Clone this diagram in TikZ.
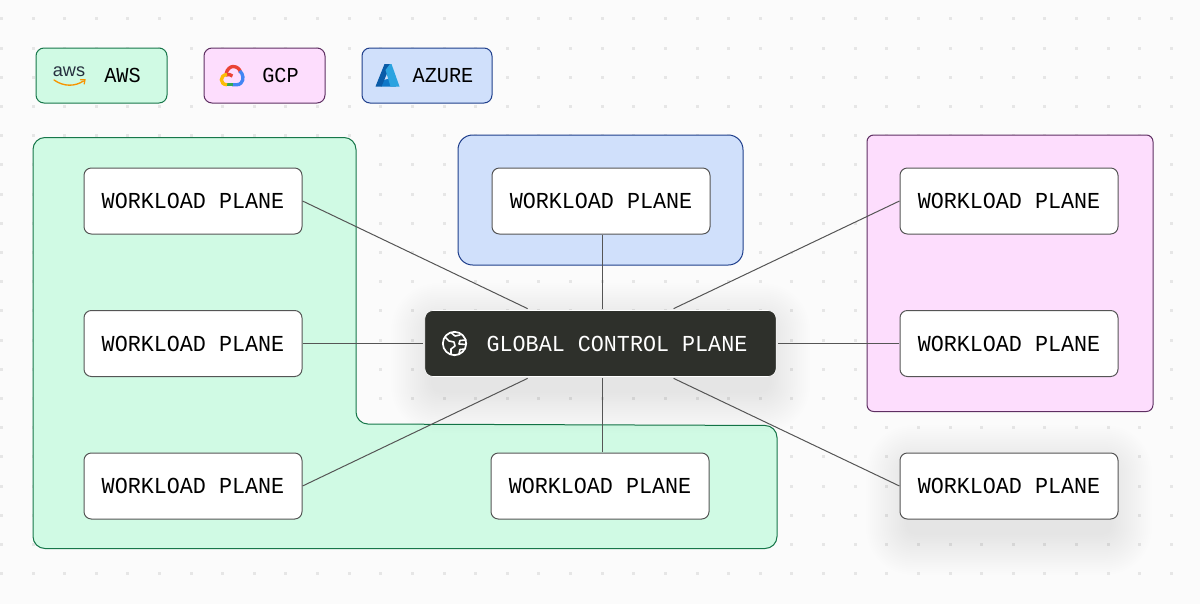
\documentclass[tikz,border=0pt]{standalone}
\usepackage{fontspec}
\setmainfont{Liberation Sans}
\newfontfamily\monof[FakeStretch=0.95]{Liberation Mono}
\definecolor{bgc}{HTML}{FBFBFB}
\definecolor{dotc}{HTML}{E6E6E6}
\definecolor{greenf}{HTML}{D0FAE4}
\definecolor{greens}{HTML}{17774A}
\definecolor{pinkf}{HTML}{FDDDFD}
\definecolor{pinks}{HTML}{5E2F62}
\definecolor{bluef}{HTML}{D0E0FB}
\definecolor{blues}{HTML}{1F3F8C}
\definecolor{darkc}{HTML}{2E302B}
\definecolor{linec}{HTML}{555555}
\definecolor{awsink}{HTML}{252F3E}
\definecolor{awsor}{HTML}{F79400}
\definecolor{gred}{HTML}{EA4335}
\definecolor{gblue}{HTML}{4285F4}
\definecolor{ggreen}{HTML}{34A853}
\definecolor{gyellow}{HTML}{FBBC05}
\definecolor{azd}{HTML}{0A5CA8}
\definecolor{azm}{HTML}{0F78C8}
\definecolor{azl}{HTML}{2BA3E0}
\newcommand{\softshadow}[4]{%
  \foreach \i in {1,...,22}{
    \pgfmathsetmacro\rr{6+\i*1.3}
    \fill[black,opacity=0.0022,rounded corners=\rr pt]
      ({#1-\i*1.9+8},{#2-\i*1.9+14}) rectangle ({#3+\i*1.9-8},{#4+\i*1.9+14});
  }}
\tikzset{
  wpbox/.style={draw=linec,line width=0.75pt,fill=white,rounded corners=5.5pt,
    minimum width=163.5pt,minimum height=49.5pt,inner sep=0pt,outer sep=0.4pt,
    font=\monof\fontsize{17.15pt}{18pt}\selectfont,text=black},
  ctrlbox/.style={draw=white,line width=0.5pt,fill=darkc,rounded corners=6pt,
    minimum width=263.5pt,minimum height=49.5pt,inner sep=0pt,outer sep=1.4pt},
  ctrltext/.style={inner sep=0pt,text=white,font=\monof\fontsize{17.15pt}{18pt}\selectfont},
  legendbox/.style={line width=0.75pt,rounded corners=6pt,minimum height=41.25pt,inner sep=0pt},
  legendtext/.style={inner sep=0pt,text=black,font=\monof\fontsize{16pt}{18pt}\selectfont},
  region/.style={line width=0.75pt},
  wire/.style={draw=linec,line width=0.75pt},
}
\begin{document}
\begin{tikzpicture}[x=0.75pt,y=-0.75pt]
\useasboundingbox (0,0) rectangle (1200,604);
\fill[bgc] (0,0) rectangle (1200,604);
% dot grid
\foreach \cx in {0,...,37}{
  \foreach \cy in {0,...,19}{
    \fill[dotc] ({1.4+\cx*31.62-1.5},{18.8+\cy*29.2-1.5}) rectangle ++(3,3);
  }}
% legend
\node[legendbox,draw=greens,fill=greenf,minimum width=98.25pt] (lgaws) at (101.5,75.5) {};
\node[legendbox,draw=pinks,fill=pinkf,minimum width=90.75pt] (lggcp) at (264.5,75.5) {};
\node[legendbox,draw=blues,fill=bluef,minimum width=97.5pt] (lgaz) at (427,75.5) {};
\node[legendtext] (tawsl) at (122.5,75.5) {AWS};
\node[legendtext] (tgcpl) at (280.5,75.5) {GCP};
\node[legendtext] (tazl) at (443,75.5) {AZURE};
% aws logo
\node[inner sep=0pt,text=awsink,font=\fontsize{13.6pt}{14pt}\selectfont] (awslogo) at (69,72) {aws};
\draw[draw=awsor,line width=1pt,line cap=round] (54,80) .. controls (64,87) and (75,86.5) .. (83.5,81);
\draw[draw=awsor,line width=0.9pt,line cap=round] (80.5,79.8) -- (85,79.8) -- (84.2,84);
% gcp logo
\begin{scope}[line width=2.5pt,line cap=butt]
\draw[draw=gred] (226,74) .. controls (227,68.5) and (231,66.5) .. (233,66.5) .. controls (237,66.5) and (240,69) .. (240.5,72.5);
\draw[draw=gred] (226,75) .. controls (228,74) and (231,74.5) .. (232.5,76);
\draw[draw=gblue] (239.8,71) .. controls (243.5,74) and (244,80) .. (241,83) .. controls (240,84.5) and (238,84.8) .. (236,84.8) -- (232,84.8);
\draw[draw=ggreen] (233,84.8) -- (226,84.8);
\draw[draw=gyellow] (227,84.8) .. controls (219.5,84.5) and (219.5,75) .. (227,74.5);
\end{scope}
% azure logo
\fill[azm] (379,81) -- (392,78) -- (396,86.5) -- (381,86.5) -- cycle;
\fill[azd] (384.5,64) -- (391,64) -- (381.5,86.5) -- (375.5,86.5) -- cycle;
\fill[azl] (390,64) -- (391.5,64) -- (399.5,86.5) -- (390.5,86.5) -- (385.5,70) -- cycle;
% regions
\draw[region,draw=greens,fill=greenf,rounded corners=9pt]
  (33,137.5) -- (356,137.5) -- (356,424) -- (777,425.5) -- (777,548.5) -- (33,548.5) -- cycle;
\draw[region,draw=blues,fill=bluef,rounded corners=11pt] (458,135) rectangle (743,265);
\draw[region,draw=pinks,fill=pinkf,rounded corners=5pt] (867,135) rectangle (1153,411.5);
% shadows
\softshadow{900}{453}{1118}{519}
\softshadow{425}{311}{776}{377}
% nodes
\node[wpbox] (w1) at (193,201) {WORKLOAD PLANE};
\node[wpbox] (w2) at (193,343.5) {WORKLOAD PLANE};
\node[wpbox] (w3) at (193,486) {WORKLOAD PLANE};
\node[wpbox] (w4) at (601,201) {WORKLOAD PLANE};
\node[wpbox] (w5) at (600,486) {WORKLOAD PLANE};
\node[wpbox] (w6) at (1009,201) {WORKLOAD PLANE};
\node[wpbox] (w7) at (1009,343.5) {WORKLOAD PLANE};
\node[wpbox] (w8) at (1009,486) {WORKLOAD PLANE};
\node[ctrlbox] (cp) at (600.5,343.5) {};
\node[ctrltext] (cpt) at (617,344) {GLOBAL CONTROL PLANE};
% globe icon
\begin{scope}[draw=white,line width=1.2pt,line cap=round,line join=round]
\node[draw=white,line width=1.3pt,circle,minimum size=17.5pt,inner sep=0pt] (globe) at (454.5,343.5) {};
\draw (445,337) -- (449,341) -- (454,342) -- (455,346) -- (451,349) -- (451,354);
\draw (451,332.5) -- (455,336) -- (460,335);
\draw (466,340) -- (460,340.5) -- (459,344) -- (466,344.5);
\draw (465,349) -- (460,349.5) -- (459,354);
\end{scope}
% connectors
\coordinate (vx) at (602,343);
\draw[wire] (w1.east) -- (cp);
\draw[wire] (w2.east) -- (cp.west |- w2.east);
\draw[wire] (w3.east) -- (cp);
\draw[wire] (w4.south -| vx) -- (cp.north -| vx);
\draw[wire] (w5.north -| vx) -- (cp.south -| vx);
\draw[wire] (w6.west) -- (cp);
\draw[wire] (w7.west) -- (cp.east |- w7.west);
\draw[wire] (w8.west) -- (cp);
\end{tikzpicture}
\end{document}
